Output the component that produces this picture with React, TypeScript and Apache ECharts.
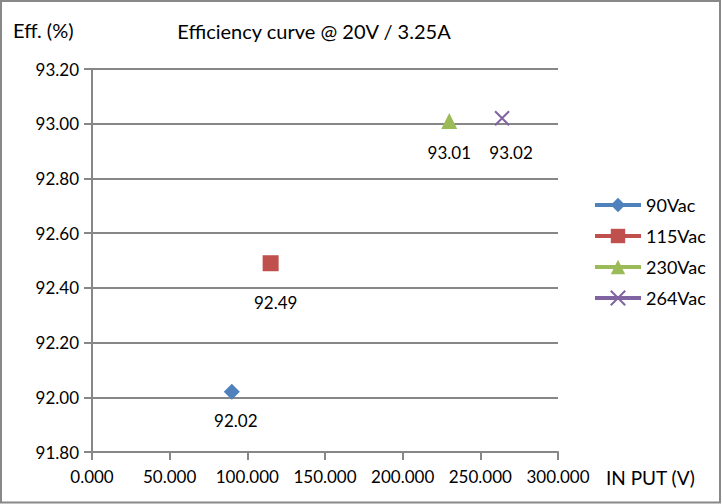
import React, { useEffect, useRef } from "react";
import * as echarts from "echarts";

const seriesNames = ["90Vac", "115Vac", "230Vac", "264Vac"];
const inputVoltage = [90, 115, 230, 264];
const efficiency = [92.02, 92.49, 93.01, 93.02];
const colors = ["#4F81BD", "#C0504D", "#9BBB59", "#8064A2"];
const symbols = ["diamond", "rect", "triangle", "path://M0,0 L10,10 M10,0 L0,10"];
const symbolSizes = [16, 16, 16, 14];
const labelOffsets = [[4, 29], [5, 39], [0, 32], [9, 34]];

const FONT = "Lato, 'Open Sans', sans-serif";

export default function App() {
  const ref = useRef<HTMLDivElement>(null);
  useEffect(() => {
    document.body.style.margin = "0";
    const chart = echarts.init(ref.current!, null, { renderer: "svg" });
    const series = seriesNames.map((name, i) => ({
      name,
      type: "line",
      data: [[inputVoltage[i], efficiency[i]]],
      symbol: symbols[i],
      symbolSize: symbolSizes[i],
      showSymbol: true,
      lineStyle: { color: colors[i], width: 4 },
      itemStyle:
        i === 3
          ? { color: colors[i], borderColor: colors[i], borderWidth: 2 }
          : { color: colors[i], borderWidth: 0 },
      label: {
        show: true,
        position: "inside",
        offset: labelOffsets[i],
        color: "#000",
        fontSize: 17,
        fontFamily: FONT,
        formatter: (p: any) => p.value[1].toFixed(2),
      },
    }));
    chart.setOption({
      animation: false,
      backgroundColor: "#fff",
      textStyle: { fontFamily: FONT },
      grid: { left: 92, right: 164, top: 69, bottom: 52 },
      xAxis: {
        type: "value",
        min: 0,
        max: 300,
        interval: 50,
        axisLine: { show: true, lineStyle: { color: "#878787", width: 2 } },
        axisTick: { show: true, length: 8, lineStyle: { color: "#878787", width: 2 } },
        splitLine: { show: false },
        axisLabel: {
          color: "#000",
          fontSize: 17,
          fontFamily: FONT,
          margin: 16,
          formatter: (v: number) => v.toFixed(3),
        },
      },
      yAxis: {
        type: "value",
        min: 91.8,
        max: 93.2,
        interval: 0.2,
        axisLine: { show: true, lineStyle: { color: "#878787", width: 2 } },
        axisTick: { show: true, length: 8, lineStyle: { color: "#878787", width: 2 } },
        splitLine: { show: true, lineStyle: { color: "#878787", width: 2 } },
        axisLabel: {
          color: "#000",
          fontSize: 17,
          fontFamily: FONT,
          margin: 13,
          formatter: (v: number) => v.toFixed(2),
        },
      },
      legend: {
        orient: "vertical",
        left: 588,
        top: 191,
        padding: 5,
        itemWidth: 46,
        itemHeight: 18,
        itemGap: 13,
        lineStyle: { width: 4 },
        textStyle: { color: "#000", fontSize: 18, lineHeight: 16, fontFamily: FONT },
        data: seriesNames,
      },
      graphic: [
        {
          type: "rect",
          shape: { x: 1, y: 1, width: 719, height: 501.5 },
          style: { fill: "none", stroke: "#888", lineWidth: 2 },
          silent: true,
        },
        {
          type: "text",
          x: 314,
          y: 31,
          style: {
            text: "Efficiency curve @ 20V / 3.25A",
            fill: "#000",
            font: `20px ${FONT}`,
            align: "center",
            verticalAlign: "middle",
          },
        },
        {
          type: "text",
          x: 13,
          y: 30,
          style: {
            text: "Eff. (%)",
            fill: "#000",
            font: `20px ${FONT}`,
            align: "left",
            verticalAlign: "middle",
          },
        },
        {
          type: "text",
          x: 606,
          y: 477,
          style: {
            text: "IN PUT (V)",
            fill: "#000",
            font: `19px ${FONT}`,
            align: "left",
            verticalAlign: "middle",
          },
        },
      ],
      series,
    });
    return () => chart.dispose();
  }, []);
  return (
    <div
      ref={ref}
      style={{ position: "absolute", left: 0, top: 0, width: 722, height: 504 }}
    />
  );
}
